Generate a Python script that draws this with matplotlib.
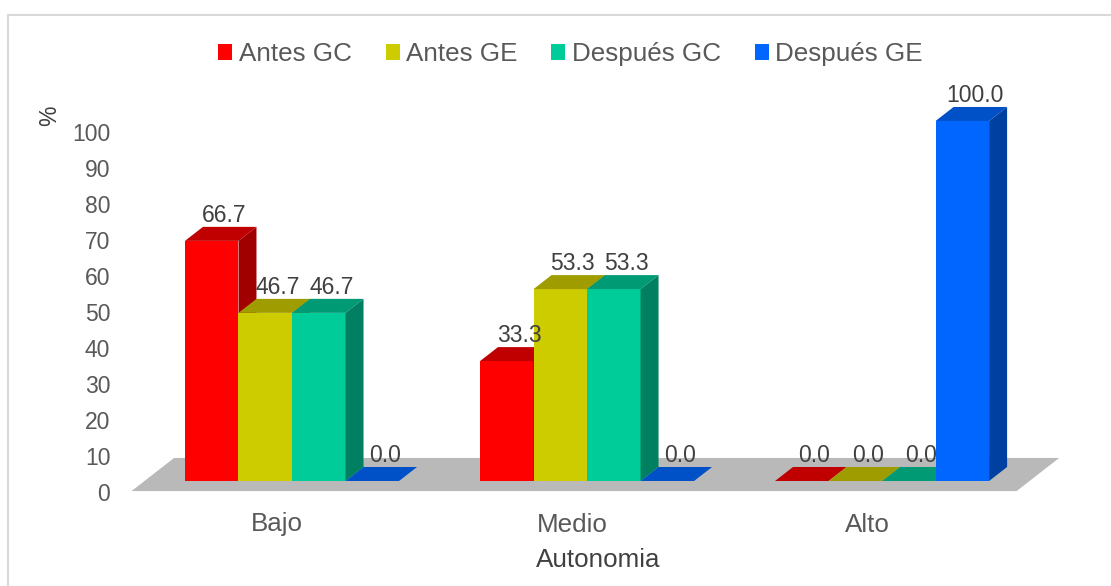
import matplotlib.pyplot as plt
from matplotlib.patches import Polygon, Patch, Rectangle

plt.rcParams['font.family'] = ['Liberation Sans', 'DejaVu Sans']

# Datos
categorias = ['Bajo', 'Medio', 'Alto']
series = ['Antes GC', 'Antes GE', 'Después GC', 'Después GE']
antes_gc = [66.7, 33.3, 0.0]
antes_ge = [46.7, 53.3, 0.0]
despues_gc = [46.7, 53.3, 0.0]
despues_ge = [0.0, 0.0, 100.0]
valores = [antes_gc, antes_ge, despues_gc, despues_ge]
ticks_y = list(range(0, 101, 10))

# Colores (frente, arriba, lateral)
colores = [
    ('#FF0000', '#C00000', '#A00000'),
    ('#CCCC00', '#9F9C00', '#808000'),
    ('#00CC99', '#009B74', '#008060'),
    ('#0066FF', '#0050C8', '#0040A0'),
]

gris_txt = '#595959'
oscuro_txt = '#404040'

fig = plt.figure(figsize=(11.11, 5.86), dpi=100)
ax = fig.add_axes([120 / 1111, 86 / 586, 950 / 1111, 400 / 586])
ax.set_xlim(-0.583, 2.637)
ax.set_ylim(-5.28, 105.83)
for sp in ax.spines.values():
    sp.set_visible(False)
ax.patch.set_visible(False)

# profundidad 3D (en unidades de datos)
DX = 0.061
DY = 3.89
w = 0.1814

# Piso gris
tf, tb = -0.72, 1.645
piso = Polygon([(-0.5 + tf * DX, tf * DY), (2.5 + tf * DX, tf * DY),
                (2.5 + tb * DX, tb * DY), (-0.5 + tb * DX, tb * DY)],
               closed=True, facecolor='#B9B9B9', edgecolor='none', zorder=1)
ax.add_patch(piso)

for s, vals in enumerate(valores):
    frente, arriba, lado = colores[s]
    xs = [i - 2 * w + s * w for i in range(len(categorias))]
    ax.bar(xs, vals, width=w, align='edge', color=frente, edgecolor='none', zorder=3 + s)
    for x0, v in zip(xs, vals):
        top = Polygon([(x0, v), (x0 + w, v), (x0 + w + DX, v + DY), (x0 + DX, v + DY)],
                      closed=True, facecolor=arriba, edgecolor='none', zorder=3 + s)
        side = Polygon([(x0 + w, 0), (x0 + w + DX, DY), (x0 + w + DX, v + DY), (x0 + w, v)],
                       closed=True, facecolor=lado, edgecolor='none', zorder=3 + s)
        ax.add_patch(top)
        ax.add_patch(side)
        ax.text(x0 + w / 2 + 0.7 * DX, v + DY, f"{v:.1f}", ha='center', va='bottom',
                fontsize=16.5, color=oscuro_txt, zorder=10)

# Ejes
ax.set_yticks([t - 3.0 for t in ticks_y])
ax.set_yticklabels([str(t) for t in ticks_y])
ax.tick_params(axis='y', length=0, pad=7, labelsize=16.5, labelcolor=gris_txt)
ax.set_xticks([i - 0.05 for i in range(len(categorias))])
ax.set_xticklabels(categorias)
ax.tick_params(axis='x', length=0, pad=9, labelsize=18.7, labelcolor=gris_txt)

ax.set_ylabel('%', fontsize=16.5, color=oscuro_txt)
ax.yaxis.set_label_coords(-0.0737, 0.96)
ax.yaxis.label.set_va('center')
ax.set_xlabel('Autonomia', fontsize=18.7, color=oscuro_txt)
ax.xaxis.set_label_coords(0.503, -0.15)
ax.xaxis.label.set_va('center')

# Leyenda
handles = [Patch(facecolor=c[0], edgecolor='none') for c in colores]
fig.legend(handles, series, loc='center', bbox_to_anchor=(570.5 / 1111, 1 - 54 / 586),
           ncol=4, frameon=False, fontsize=18.7, labelcolor=gris_txt,
           handlelength=0.54, handleheight=0.54, handletextpad=0.25, columnspacing=1.3)

# Marco
marco = Rectangle((8 / 1111, -0.1), 1.2, 1.1 - 15 / 586 + 0.0, transform=fig.transFigure,
                  fill=False, edgecolor='#D9D9D9', linewidth=1.5, clip_on=False)
fig.patches.append(marco)

plt.savefig('out.png', dpi=100)
